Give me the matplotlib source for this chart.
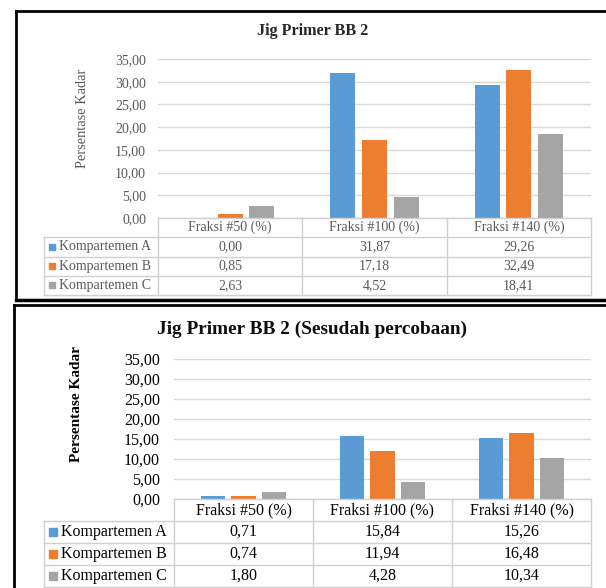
import matplotlib.pyplot as plt
from matplotlib.lines import Line2D
import numpy as np

plt.rcParams['font.family'] = ['Liberation Serif', 'DejaVu Serif']

fraksi = ['Fraksi #50 (%)', 'Fraksi #100 (%)', 'Fraksi #140 (%)']
kompartemen = ['Kompartemen A', 'Kompartemen B', 'Kompartemen C']
colors = ['#5B9BD5', '#ED7D31', '#A5A5A5']

# sebelum percobaan
before_a = [0.00, 31.87, 29.26]
before_b = [0.85, 17.18, 32.49]
before_c = [2.63, 4.52, 18.41]

# sesudah percobaan
after_a = [0.71, 15.84, 15.26]
after_b = [0.74, 11.94, 16.48]
after_c = [1.80, 4.28, 10.34]

yticks = [0, 5, 10, 15, 20, 25, 30, 35]

W, H = 606, 588
fig = plt.figure(figsize=(W / 100, H / 100), dpi=100)


def box(l, t, r, b):
    return [l / W, 1 - b / H, (r - l) / W, (b - t) / H]


def fmt(v):
    return f'{v:.2f}'.replace('.', ',')


def panel(title, series, geo, tc, fs, tfs, yfs, ybold):
    l, t, r, b = geo['plot']
    ax = fig.add_axes(box(l, t, r, b))
    x = np.arange(len(fraksi))
    for k, vals in enumerate(series):
        ax.bar(x + (k - 1) * 0.219, vals, width=0.174, color=colors[k], zorder=3)
    ax.set_xlim(-0.5, 2.5)
    ax.set_ylim(0, 35)
    ax.set_yticks(yticks)
    ax.set_yticklabels([fmt(v) for v in yticks], fontsize=fs, color=tc)
    ax.set_xticks([])
    ax.tick_params(axis='y', length=0, pad=geo['pad'])
    ax.grid(axis='y', color='#D9D9D9', lw=1, zorder=0)
    for s in ax.spines.values():
        s.set_visible(False)

    fig.text(geo['title'][0] / W, 1 - geo['title'][1] / H, title, ha='center', va='center',
             fontsize=tfs, fontweight='bold', color='#0d0d0d' if ybold else '#262626')
    fig.text(geo['ylab'][0] / W, 1 - geo['ylab'][1] / H, 'Persentase Kadar', rotation=90,
             ha='center', va='center', fontsize=yfs, color=tc,
             fontweight='bold' if ybold else 'normal')

    # tabel data
    tl, tb = geo['table']
    cw = (r - l) / 3.0
    lab = (l - tl) / cw
    tax = fig.add_axes(box(tl, b, r, tb))
    tax.set_xlim(-0.5 - lab, 2.5)
    tax.set_ylim(4, 0)
    tax.axis('off')
    gc = '#D0D0D0'
    tax.add_line(Line2D([-0.5, 2.5], [0, 0], color=gc, lw=1, clip_on=False))
    for yy in [1, 2, 3, 4]:
        tax.add_line(Line2D([-0.5 - lab, 2.5], [yy, yy], color=gc, lw=1, clip_on=False))
    tax.add_line(Line2D([-0.5 - lab, -0.5 - lab], [1, 4], color=gc, lw=1, clip_on=False))
    for xx in [-0.5, 0.5, 1.5, 2.5]:
        tax.add_line(Line2D([xx, xx], [0, 4], color=gc, lw=1, clip_on=False))
    for i, f in enumerate(fraksi):
        tax.text(i, 0.5, f, ha='center', va='center', fontsize=fs, color=tc)
    sq = -0.5 - lab + geo['sq'] / cw
    tx = -0.5 - lab + geo['lx'] / cw
    for k, vals in enumerate(series):
        tax.plot([sq], [k + 1.5], marker='s', ms=geo['ms'], color=colors[k], clip_on=False)
        tax.text(tx, k + 1.5, kompartemen[k], ha='left', va='center', fontsize=fs, color=tc)
        for i, v in enumerate(vals):
            tax.text(i, k + 1.5, fmt(v), ha='center', va='center', fontsize=fs, color=tc)


panel('Jig Primer BB 2', [before_a, before_b, before_c],
      {'plot': (158, 59, 591, 218), 'pad': 8.5, 'title': (313, 31), 'ylab': (83, 118),
       'table': (44, 295), 'sq': 8, 'lx': 15, 'ms': 5},
      '#595959', 10, 11.6, 10.4, False)

panel('Jig Primer BB 2 (Sesudah percobaan)', [after_a, after_b, after_c],
      {'plot': (174, 359, 591, 499), 'pad': 10, 'title': (312, 329), 'ylab': (77, 404),
       'table': (44, 587), 'sq': 9, 'lx': 17, 'ms': 6},
      'black', 11.5, 13.9, 11, True)

# bingkai hitam
fig.add_artist(Line2D([16 / W, 16 / W], [1 - 11 / H, 1 - 300 / H], color='black', lw=2))
fig.add_artist(Line2D([16 / W, 1], [1 - 11 / H, 1 - 11 / H], color='black', lw=2))
fig.add_artist(Line2D([16 / W, 1], [1 - 300 / H, 1 - 300 / H], color='black', lw=2.5))
fig.add_artist(Line2D([13.5 / W, 13.5 / W], [1 - 305 / H, 0], color='black', lw=2))
fig.add_artist(Line2D([13.5 / W, 1], [1 - 305 / H, 1 - 305 / H], color='black', lw=2))

fig.savefig('out.png', dpi=100)
